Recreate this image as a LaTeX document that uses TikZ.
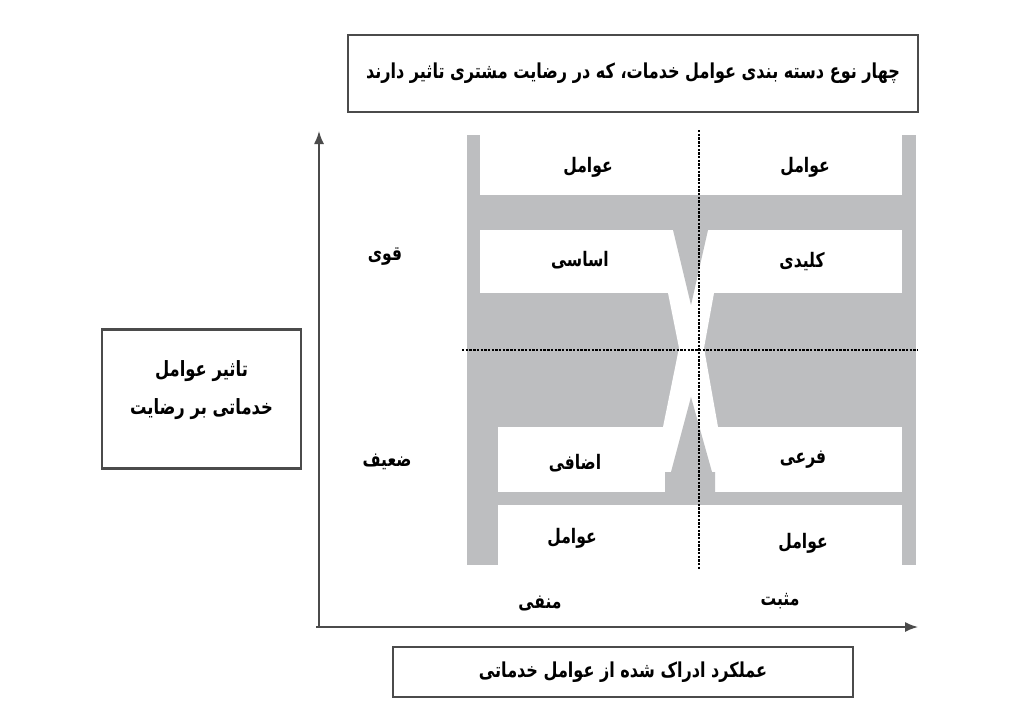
\documentclass[tikz,border=0pt]{standalone}
\usepackage{fontspec}
\newfontfamily\fa[Script=Arabic,FakeStretch=0.78]{DejaVu Sans}
\TeXXeTstate=1
\usetikzlibrary{arrows.meta}
\definecolor{panel}{RGB}{189,190,192}
\definecolor{edge}{RGB}{75,75,75}
\tikzset{
  framebox/.style={draw=edge, line width=2.2pt, fill=white, inner sep=0pt, align=center},
  lbl/.style={font=\fa\bfseries\fontsize{20}{24}\selectfont, inner sep=1pt},
  titlefont/.style={font=\fa\bfseries\fontsize{20.6}{24}\selectfont},
  sidefont/.style={font=\fa\bfseries\fontsize{21}{24}\selectfont, align=center},
  axisline/.style={draw=edge, line width=1.6pt, -{Latex[length=13pt,width=10pt]}},
  guide/.style={black, line width=2.8pt, dash pattern=on 2.4pt off 1.3pt},
}
\begin{document}
\begin{tikzpicture}[x=1pt,y=-1pt]
\useasboundingbox (0,0) rectangle (1024,726);
% grey panel
\fill[panel] (467,135) rectangle (916,565);
\fill[white] (480,135) rectangle (902,195);
\fill[white] (480,230) rectangle (902,293);
\fill[white] (668,293) -- (714,293) -- (704,348) -- (718,427) -- (663,427) -- (679,348) -- cycle;
\fill[white] (498,427) rectangle (902,492);
\fill[white] (498,505) rectangle (902,565);
\fill[panel] (673,230) -- (708,230) -- (691,305) -- cycle;
\fill[panel] (691,397) -- (712,472) -- (715,472) -- (715,492) -- (665,492) -- (665,472) -- (671,472) -- cycle;
% guides
\coordinate (vt) at (699,130);
\coordinate (vb) at (699,570);
\coordinate (hl) at (462,350);
\coordinate (hr) at (918,350);
\draw[guide] (vt) -- (vb);
\draw[guide] (hl) -- (hr);
% axes
\coordinate (o) at (319,627);
\coordinate (oy) at (319,131);
\coordinate (ox) at (918,627);
\coordinate (ox0) at (316,627);
\draw[axisline] (o) -- (oy);
\draw[axisline] (ox0) -- (ox);
% boxes
\node[framebox, titlefont, minimum width=570pt, minimum height=77pt] (title) at (633,73.5)
  {\beginR چهار نوع دسته بندی عوامل خدمات، که در رضایت مشتری تاثیر دارند\endR};
\node[framebox, minimum width=199pt, minimum height=139pt] (impact) at (201.5,399) {};
\node[sidefont] (impacttext) at ([yshift=9pt]impact.center)
  {\beginR تاثیر عوامل\endR\\[14pt]\beginR خدماتی بر  رضایت\endR};
\node[framebox, titlefont, minimum width=460pt, minimum height=50pt] (perf) at (623,672)
  {\beginR عملکرد ادراک شده از عوامل خدماتی\endR};
% axis labels
\node[lbl] (strong) at (385,257) {\beginR قوی\endR};
\node[lbl] (weak) at (387,462) {\beginR ضعیف\endR};
\node[lbl] (neg) at (540,603) {\beginR منفی\endR};
\node[lbl] (pos) at (780,601) {\beginR مثبت\endR};
% quadrant labels
\node[lbl] (q1a) at (588,167) {\beginR عوامل\endR};
\node[lbl] (q2a) at (805,167) {\beginR عوامل\endR};
\node[lbl] (q1b) at (580,260) {\beginR اساسی\endR};
\node[lbl] (q2b) at (802,262) {\beginR کلیدی\endR};
\node[lbl] (q3b) at (575,463) {\beginR اضافی\endR};
\node[lbl] (q4b) at (803,460) {\beginR فرعی\endR};
\node[lbl] (q3a) at (572,538) {\beginR عوامل\endR};
\node[lbl] (q4a) at (803,543) {\beginR عوامل\endR};
\end{tikzpicture}
\end{document}
